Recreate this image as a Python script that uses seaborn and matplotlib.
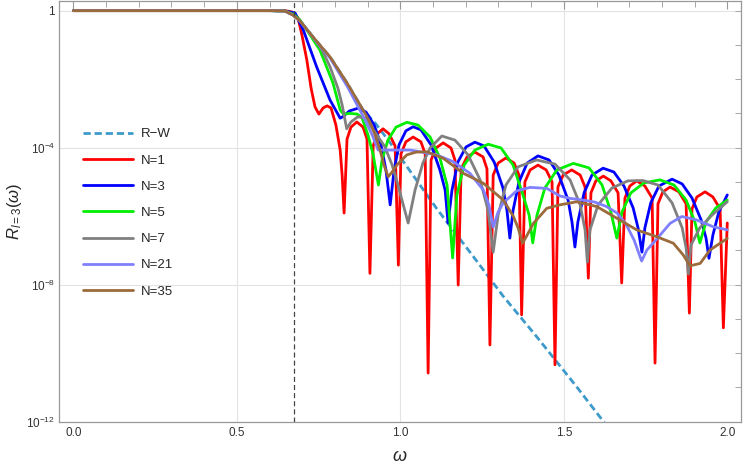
import numpy as np
import pandas as pd
import seaborn as sns
import matplotlib.pyplot as plt
from matplotlib.ticker import FixedLocator, NullFormatter

# omega values and log10(R)
w_rw = [0.0, 0.600, 0.647, 0.672, 0.693, 0.733, 0.785, 0.837, 0.886, 0.923,
        0.969, 1.008, 1.060, 1.112, 1.213, 1.314, 1.418, 1.540, 1.641]
lr_rw = [0.0, 0.0, -0.01, -0.13, -0.30, -0.77, -1.35, -2.11, -2.90, -3.28,
         -3.86, -4.39, -5.09, -5.79, -7.05, -8.33, -9.53, -10.99, -12.24]

w_n1 = [0.0, 0.600, 0.647, 0.669, 0.687, 0.699, 0.714, 0.727, 0.739, 0.751, 0.764, 0.776,
        0.788, 0.803, 0.816, 0.822, 0.828,
        0.837, 0.849, 0.867, 0.886, 0.898, 0.907,
        0.917, 0.929, 0.947, 0.966, 0.984, 0.994,
        1.002, 1.017, 1.039, 1.063, 1.076, 1.085,
        1.094, 1.109, 1.131, 1.155, 1.167, 1.177,
        1.186, 1.204, 1.228, 1.253, 1.265, 1.274,
        1.284, 1.299, 1.323, 1.348, 1.363, 1.371,
        1.381, 1.397, 1.421, 1.446, 1.464, 1.473,
        1.482, 1.498, 1.524, 1.550, 1.565, 1.575,
        1.583, 1.598, 1.621, 1.644, 1.666, 1.677,
        1.687, 1.702, 1.723, 1.748, 1.770, 1.779,
        1.788, 1.803, 1.825, 1.852, 1.874, 1.884,
        1.892, 1.907, 1.932, 1.956, 1.978, 1.988, 2.000]
lr_n1 = [0.0, 0.0, 0.0, -0.04, -0.21, -0.71, -1.44, -2.26, -2.81, -3.02, -2.84, -2.78,
         -2.84, -3.34, -4.07, -4.80, -5.91,
         -3.75, -3.40, -3.25, -3.40, -3.75, -7.67,
         -3.95, -3.60, -3.45, -3.60, -3.95, -7.43,
         -4.18, -3.83, -3.69, -3.83, -4.18, -10.58,
         -4.36, -4.01, -3.86, -4.01, -4.36, -8.01,
         -4.62, -4.27, -4.13, -4.27, -4.62, -9.76,
         -4.80, -4.45, -4.30, -4.45, -4.80, -8.88,
         -5.00, -4.65, -4.51, -4.65, -5.00, -10.34,
         -5.15, -4.80, -4.65, -4.80, -5.15, -7.81,
         -5.32, -4.97, -4.83, -4.97, -5.32, -7.95,
         -5.47, -5.12, -4.97, -5.12, -5.47, -10.29,
         -5.64, -5.29, -5.15, -5.29, -5.64, -8.83,
         -5.79, -5.44, -5.29, -5.44, -5.79, -9.26, -6.20]

w_n3 = [0.0, 0.602, 0.647, 0.678, 0.703, 0.744, 0.785, 0.816, 0.825,
        0.844, 0.870, 0.895, 0.920, 0.941, 0.956, 0.969, 0.981, 0.996, 1.017, 1.039, 1.063,
        1.094, 1.121, 1.137, 1.146, 1.158, 1.176, 1.201, 1.228, 1.256, 1.287, 1.314, 1.326,
        1.335, 1.345, 1.363, 1.388, 1.421, 1.455, 1.485, 1.513, 1.525, 1.534, 1.543, 1.562,
        1.586, 1.620, 1.653, 1.684, 1.712, 1.727, 1.739, 1.748, 1.766, 1.791, 1.831, 1.862,
        1.892, 1.920, 1.935, 1.944, 1.956, 1.974, 2.000]
lr_n3 = [0.0, 0.0, -0.01, -0.07, -0.56, -1.64, -2.61, -3.14, -3.09,
         -2.93, -2.85, -2.96, -3.34, -3.92, -4.65, -5.67, -4.65, -3.92, -3.51, -3.39, -3.48,
         -3.92, -4.65, -5.24, -6.20, -5.24, -4.42, -3.98, -3.84, -3.95, -4.42, -5.18, -5.82,
         -6.64, -5.82, -5.00, -4.45, -4.24, -4.36, -4.80, -5.53, -6.17, -6.90, -6.17, -5.32,
         -4.80, -4.60, -4.71, -5.12, -5.76, -6.34, -7.05, -6.34, -5.61, -5.12, -4.92, -5.06,
         -5.47, -6.11, -6.64, -7.23, -6.55, -5.88, -5.38]

w_n5 = [0.0, 0.602, 0.647, 0.672, 0.693, 0.724, 0.754, 0.794, 0.816, 0.826, 0.846, 0.868,
        0.883, 0.901, 0.917, 0.933, 0.944, 0.962, 0.987, 1.020, 1.054, 1.091, 1.121, 1.143,
        1.160, 1.173, 1.195, 1.228, 1.269, 1.308, 1.345, 1.375, 1.394, 1.405, 1.418, 1.442,
        1.479, 1.529, 1.577, 1.617, 1.644, 1.662, 1.678, 1.705, 1.745, 1.794, 1.837, 1.874,
        1.901, 1.916, 1.935, 1.965, 2.000]
lr_n5 = [0.0, 0.0, -0.01, -0.10, -0.27, -0.71, -1.15, -2.11, -2.90, -3.02, -3.00, -3.02,
         -3.13, -3.63, -4.21, -5.09, -4.36, -3.78, -3.40, -3.26, -3.34, -3.69, -4.30, -5.09,
         -7.22, -5.38, -4.51, -4.07, -3.90, -4.01, -4.51, -5.38, -5.97, -6.78, -5.97, -5.18,
         -4.65, -4.46, -4.59, -5.09, -5.88, -6.64, -5.88, -5.32, -5.03, -4.94, -5.09, -5.53,
         -6.17, -6.78, -6.17, -5.76, -5.53]

w_n7 = [0.0, 0.602, 0.647, 0.672, 0.693, 0.733, 0.761, 0.785, 0.809, 0.822, 0.836, 0.849,
        0.870, 0.892, 0.920, 0.953, 0.975, 0.993, 1.005, 1.024, 1.045, 1.069, 1.091, 1.127,
        1.167, 1.207, 1.244, 1.268, 1.284, 1.299, 1.323, 1.360, 1.417, 1.473, 1.519, 1.550,
        1.565, 1.572, 1.580, 1.605, 1.647, 1.696, 1.742, 1.788, 1.831, 1.862, 1.874, 1.881,
        1.889, 1.916, 1.953, 2.000]
lr_n7 = [0.0, 0.0, -0.01, -0.13, -0.30, -0.77, -1.15, -1.64, -2.26, -2.75, -3.45, -3.25,
         -3.10, -3.13, -3.51, -3.98, -4.51, -5.09, -5.53, -6.20, -5.24, -4.45, -4.01, -3.66,
         -3.78, -4.21, -4.94, -5.82, -7.05, -5.97, -5.09, -4.56, -4.36, -4.48, -4.94, -5.67,
         -6.40, -7.34, -6.40, -5.67, -5.18, -4.97, -4.96, -5.09, -5.61, -6.34, -6.93, -7.69,
         -6.84, -6.34, -5.97, -5.58]

w_n21 = [0.0, 0.602, 0.647, 0.672, 0.693, 0.733, 0.785, 0.840, 0.892, 0.914, 0.932, 0.969,
         1.030, 1.060, 1.111, 1.162, 1.213, 1.254, 1.271, 1.284, 1.299, 1.315, 1.356, 1.397,
         1.448, 1.488, 1.519, 1.559, 1.595, 1.631, 1.663, 1.690, 1.715, 1.738, 1.754, 1.784,
         1.825, 1.861, 1.906, 1.957, 2.000]
lr_n21 = [0.0, 0.0, -0.01, -0.13, -0.30, -0.78, -1.38, -2.25, -3.19, -3.63, -4.07, -4.07,
          -4.07, -4.12, -4.21, -4.41, -4.75, -5.24, -5.67, -6.32, -5.88, -5.61, -5.26, -5.16,
          -5.19, -5.41, -5.48, -5.53, -5.59, -5.72, -5.91, -6.23, -6.70, -7.31, -6.99, -6.67,
          -6.21, -6.01, -6.11, -6.31, -6.40]

w_n35 = [0.0, 0.602, 0.647, 0.672, 0.693, 0.733, 0.785, 0.837, 0.886, 0.907, 0.923,
         0.938, 0.950, 0.963, 0.975, 0.989, 1.020, 1.048, 1.081, 1.131, 1.193, 1.254, 1.315,
         1.346, 1.360, 1.374, 1.388, 1.407, 1.448, 1.488, 1.539, 1.601, 1.662, 1.723, 1.784,
         1.835, 1.865, 1.886, 1.917, 1.947, 2.000]
lr_n35 = [0.0, 0.0, -0.01, -0.13, -0.30, -0.77, -1.35, -2.11, -2.90, -3.25, -3.63,
          -4.07, -4.51, -4.85, -4.71, -4.51, -4.21, -4.13, -4.12, -4.31, -4.75, -5.04, -5.53,
          -6.01, -6.34, -6.79, -6.55, -6.21, -5.77, -5.67, -5.58, -5.72, -6.06, -6.40, -6.60,
          -6.79, -7.13, -7.45, -7.38, -6.99, -6.65]

omega_c = 0.675

sns.set_style("white")
plt.rcParams['font.family'] = ['Liberation Sans', 'DejaVu Sans']
plt.rcParams['mathtext.fontset'] = 'custom'
plt.rcParams['mathtext.rm'] = 'Liberation Sans'
plt.rcParams['mathtext.it'] = 'Liberation Sans:italic'

fig = plt.figure(figsize=(7.47, 4.70), dpi=100)
ax = fig.add_axes([0.0794, 0.1028, 0.9126, 0.8952])

for v in [0.5, 1.0, 1.5]:
    ax.axvline(v, color='#e3e3e3', lw=0.8, zorder=0)
for v in [1.0, 1e-4, 1e-8]:
    ax.axhline(v, color='#e3e3e3', lw=0.8, zorder=0)

series = [
    ("N=1", w_n1, lr_n1, "#ff0000"),
    ("N=3", w_n3, lr_n3, "#0000ff"),
    ("N=5", w_n5, lr_n5, "#00ee00"),
    ("N=7", w_n7, lr_n7, "#808080"),
    ("N=21", w_n21, lr_n21, "#8080ff"),
    ("N=35", w_n35, lr_n35, "#9c6b3c"),
]

df_rw = pd.DataFrame({"w": w_rw, "R": 10.0 ** np.array(lr_rw)})
sns.lineplot(data=df_rw, x="w", y="R", ax=ax, color="#3d9acb", lw=2.0,
             linestyle=(0, (2.6, 1.4)), label="R\u2212W", estimator=None, sort=False)

for name, w, lr, color in series:
    df = pd.DataFrame({"w": w, "R": 10.0 ** np.array(lr)})
    sns.lineplot(data=df, x="w", y="R", ax=ax, color=color, lw=2.0, label=name,
                 estimator=None, sort=False)

ax.axvline(omega_c, color='#444444', lw=0.9, ls=(0, (4, 2.5)), zorder=10)

ax.set_yscale('log')
ax.set_xlim(-0.043, 2.042)
ax.set_ylim(1e-12, 10 ** 0.283)

ax.set_xticks([0, 0.5, 1.0, 1.5, 2.0])
ax.set_xticklabels(['0.0', '0.5', '1.0', '1.5', '2.0'])
ax.xaxis.set_minor_locator(FixedLocator([i / 10 for i in range(21) if i % 5]))
ax.set_yticks([1, 1e-4, 1e-8, 1e-12])
ax.set_yticklabels(['1', r'$10^{-4}$', r'$10^{-8}$', r'$10^{-12}$'])
ax.yaxis.set_minor_locator(FixedLocator([10.0 ** -k for k in range(1, 12) if k % 4]))
ax.yaxis.set_minor_formatter(NullFormatter())

ax.tick_params(which='both', direction='in', top=True, right=True, color='#999999',
               labelsize=8.5, labelcolor='#333333')
ax.tick_params(axis='x', which='major', length=6, width=0.8, pad=4)
ax.tick_params(axis='x', which='minor', length=4, width=0.6)
ax.tick_params(axis='y', which='both', length=4, width=0.6, pad=3)
for s in ax.spines.values():
    s.set_color('#999999')
    s.set_linewidth(0.9)

ax.set_xlabel(r'$\omega$', fontsize=13, labelpad=6)
ax.set_ylabel(r'$R_{l=3}(\omega)$', fontsize=12, labelpad=2)

ax.legend(loc='upper left', bbox_to_anchor=(0.017, 0.726), frameon=False, fontsize=9.5,
          handlelength=3.8, handletextpad=0.6, labelspacing=1.06, borderpad=0.4)

fig.savefig('out.png', dpi=100)
